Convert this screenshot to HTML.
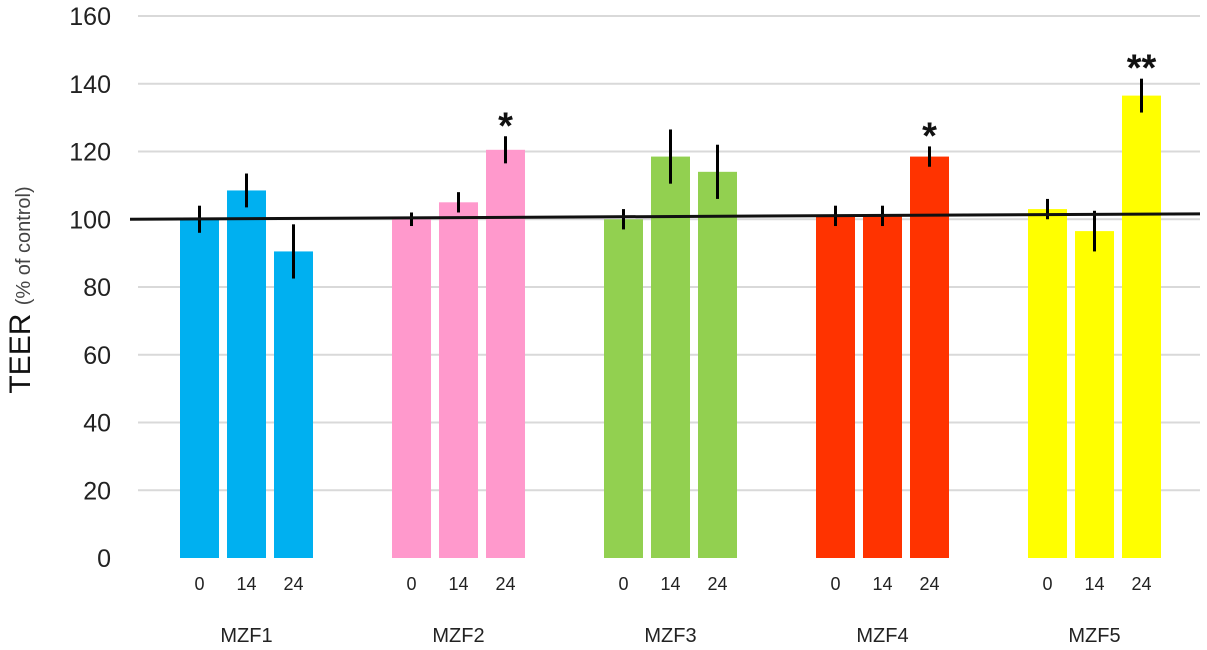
<!DOCTYPE html>
<html><head><meta charset="utf-8"><style>
body{margin:0;background:#fff;}
svg{display:block;font-family:"Liberation Sans",Arial,sans-serif;}
</style></head><body>
<svg id="chart" width="1207" height="650"></svg>
<script>
const groups=["MZF1","MZF2","MZF3","MZF4","MZF5"];
const times=["0","14","24"];
const values=[[100,108.5,90.5],[100,105,120.5],[100,118.5,114],[101,101,118.5],[103,96.5,136.5]];
const errors=[[4,5,8],[2,3,4],[3,8,8],[3,3,3],[3,6,5]];
const stars=[["","",""],["","","*"],["","",""],["","","*"],["","","**"]];
const colors=["#00B0F0","#FF99CC","#92D050","#FF3300","#FFFF00"];
const yTicks=[0,20,40,60,80,100,120,140,160];
const refLine=[100,101.6];

const NS="http://www.w3.org/2000/svg";
const svg=document.getElementById('chart');
function mk(t,a,p){const e=document.createElementNS(NS,t);for(const k in a)e.setAttribute(k,a[k]);(p||svg).appendChild(e);return e;}
const y=v=>558-v*(542/160);
const gx=g=>180+g*212;
const bx=(g,i)=>gx(g)+i*47;
const BW=39;

yTicks.forEach(t=>{
  if(t>0){const l=mk('line',{x1:138,x2:1200,y1:y(t),y2:y(t),stroke:'#d9d9d9','stroke-width':2});
  
  }
  const tx=mk('text',{x:111,y:y(t)+9,'text-anchor':'end','font-size':25,fill:'#222'});tx.textContent=t;
  
  
});
groups.forEach((g,gi)=>{
  times.forEach((t,i)=>{
    const v=values[gi][i],e=errors[gi][i],x=bx(gi,i);
    const r=mk('rect',{x:x,y:y(v),width:BW,height:558-y(v),fill:colors[gi]});
    
    
    const el=mk('line',{x1:x+BW/2,x2:x+BW/2,y1:y(v+e),y2:y(v-e),stroke:'#000','stroke-width':3});
    
    
    const lb=mk('text',{x:x+BW/2,y:590,'text-anchor':'middle','font-size':18,fill:'#222'});lb.textContent=t;
    
    
    if(stars[gi][i]){const s=mk('text',{x:x+BW/2,y:y(v+e)+2,'text-anchor':'middle','font-size':38,'font-weight':'bold',fill:'#111'});s.textContent=stars[gi][i];
    
    }
  });
  const gl=mk('text',{x:bx(gi,1)+BW/2,y:642,'text-anchor':'middle','font-size':20,fill:'#222'});gl.textContent=g;
  
  
});
const rl=mk('line',{x1:130,x2:1200,y1:y(refLine[0]),y2:y(refLine[1]),stroke:'#111','stroke-width':3});


const yt=mk('text',{transform:'translate(30,290) rotate(-90)','text-anchor':'middle',fill:'#111'});


const t1=mk('tspan',{'font-size':30},yt);t1.textContent='TEER ';
const t2=mk('tspan',{'font-size':20,fill:'#444'},yt);t2.textContent='(% of control)';
</script>
</body></html>
